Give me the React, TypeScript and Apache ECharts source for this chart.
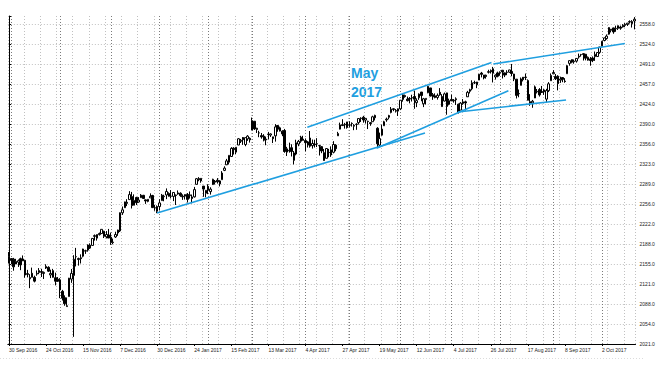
import { useEffect, useRef } from 'react';
import * as echarts from 'echarts';

// Daily bars, rows: [day, open, high, low, close]
const sep2016 = [[30, 2156.5, 2175.3, 2156.5, 2168.3]];
const oct2016 = [
  [3, 2164.3, 2164.4, 2154.8, 2161.2], [4, 2163.4, 2165.5, 2144.0, 2150.5], [5, 2155.2, 2163.9, 2155.1, 2159.7],
  [6, 2158.2, 2162.9, 2150.3, 2160.8], [7, 2164.2, 2165.9, 2144.9, 2153.7], [10, 2160.4, 2169.6, 2160.4, 2163.7],
  [11, 2161.4, 2161.6, 2132.2, 2136.7], [12, 2137.7, 2145.4, 2132.8, 2139.2], [13, 2130.3, 2138.2, 2114.7, 2132.6],
  [14, 2139.7, 2149.2, 2132.7, 2133.0], [17, 2132.9, 2135.6, 2124.4, 2126.5], [18, 2138.3, 2144.4, 2135.5, 2139.6],
  [19, 2140.8, 2148.4, 2138.2, 2144.3], [20, 2142.5, 2147.2, 2133.4, 2141.3], [21, 2139.4, 2142.6, 2130.1, 2141.2],
  [24, 2148.5, 2154.8, 2146.9, 2151.3], [25, 2149.7, 2151.4, 2141.9, 2143.2], [26, 2136.9, 2145.7, 2131.6, 2139.4],
  [27, 2144.1, 2147.1, 2132.5, 2133.0], [28, 2132.2, 2140.7, 2119.4, 2126.4], [31, 2129.8, 2133.3, 2125.5, 2126.2],
];
const nov2016 = [
  [1, 2128.7, 2131.5, 2097.9, 2111.7], [2, 2109.4, 2111.8, 2094.0, 2097.9], [3, 2098.8, 2102.6, 2085.2, 2088.7],
  [4, 2083.8, 2099.1, 2083.8, 2085.2], [7, 2100.6, 2132.0, 2100.6, 2131.5], [8, 2129.9, 2146.9, 2123.6, 2139.6],
  [9, 2136.0, 2170.0, 2033.0, 2163.3], [10, 2167.5, 2182.3, 2151.2, 2167.5], [11, 2162.7, 2165.9, 2152.5, 2164.5],
  [14, 2165.6, 2171.4, 2156.1, 2164.2], [15, 2168.3, 2180.8, 2166.4, 2180.4], [16, 2177.5, 2179.2, 2172.2, 2176.9],
  [17, 2178.6, 2188.1, 2175.9, 2187.1], [18, 2186.9, 2189.9, 2180.4, 2181.9], [21, 2186.4, 2198.7, 2186.4, 2198.2],
  [22, 2201.6, 2204.8, 2194.5, 2202.9], [23, 2198.6, 2204.7, 2194.5, 2204.7], [24, 2204.5, 2208.0, 2203.0, 2206.5],
  [25, 2206.3, 2213.4, 2206.3, 2213.4], [28, 2210.2, 2211.1, 2198.8, 2201.7], [29, 2200.8, 2210.5, 2198.2, 2204.7],
  [30, 2204.0, 2214.1, 2198.8, 2198.8],
];
const dec2016 = [
  [1, 2200.2, 2208.0, 2187.4, 2191.1], [2, 2191.1, 2197.9, 2188.4, 2192.0], [5, 2200.6, 2209.4, 2199.0, 2204.7],
  [6, 2207.3, 2212.8, 2202.5, 2212.2], [7, 2210.7, 2241.6, 2208.9, 2241.4], [8, 2241.1, 2251.7, 2237.6, 2246.2],
  [9, 2249.7, 2259.8, 2249.2, 2259.5], [12, 2258.8, 2264.0, 2252.4, 2257.0], [13, 2263.3, 2277.5, 2263.3, 2271.7],
  [14, 2268.4, 2276.2, 2248.4, 2253.3], [15, 2253.8, 2272.1, 2253.8, 2262.0], [16, 2266.8, 2268.1, 2254.2, 2258.1],
  [19, 2259.2, 2267.5, 2258.2, 2262.5], [20, 2266.5, 2272.6, 2266.2, 2270.8], [21, 2270.5, 2271.2, 2265.2, 2265.2],
  [22, 2262.9, 2263.2, 2256.1, 2261.0], [23, 2260.3, 2263.8, 2258.8, 2263.8], [27, 2266.2, 2273.8, 2266.2, 2268.9],
  [28, 2270.2, 2271.3, 2249.1, 2249.9], [29, 2249.5, 2254.5, 2244.6, 2249.3], [30, 2251.6, 2253.6, 2240.5, 2243.8],
];
const jan2017 = [
  [3, 2251.6, 2263.9, 2245.1, 2257.8], [4, 2261.6, 2272.8, 2261.6, 2270.8], [5, 2268.2, 2271.5, 2260.5, 2269.0],
  [6, 2271.1, 2282.1, 2264.1, 2277.0], [9, 2273.6, 2275.5, 2268.4, 2268.9], [10, 2269.0, 2279.3, 2265.3, 2268.9],
  [11, 2268.6, 2275.5, 2260.8, 2275.3], [12, 2271.1, 2271.8, 2254.3, 2270.4], [13, 2272.7, 2278.7, 2271.5, 2274.6],
  [16, 2274.0, 2275.5, 2268.0, 2270.0], [17, 2269.1, 2272.1, 2262.8, 2267.9], [18, 2269.1, 2272.0, 2263.4, 2271.9],
  [19, 2271.9, 2274.3, 2258.4, 2263.7], [20, 2270.0, 2277.0, 2265.0, 2271.3], [23, 2267.8, 2271.8, 2257.0, 2265.2],
  [24, 2267.9, 2284.6, 2266.7, 2280.1], [25, 2288.9, 2299.6, 2288.9, 2298.4], [26, 2298.6, 2301.0, 2294.1, 2296.7],
  [27, 2299.0, 2299.0, 2291.6, 2294.7], [30, 2286.0, 2286.0, 2268.0, 2280.9], [31, 2274.0, 2279.1, 2267.2, 2278.9],
];
const feb2017 = [
  [1, 2285.6, 2289.1, 2272.4, 2279.6], [2, 2276.7, 2284.0, 2271.7, 2280.9], [3, 2288.5, 2298.3, 2287.9, 2297.4],
  [6, 2294.3, 2296.2, 2288.6, 2292.6], [7, 2295.9, 2299.4, 2290.2, 2293.1], [8, 2289.6, 2295.9, 2285.4, 2294.7],
  [9, 2296.7, 2311.1, 2296.6, 2307.9], [10, 2312.3, 2319.2, 2311.1, 2316.1], [13, 2321.7, 2331.6, 2321.4, 2328.3],
  [14, 2326.1, 2337.6, 2322.2, 2337.6], [15, 2335.6, 2351.3, 2334.8, 2349.3], [16, 2349.6, 2351.3, 2338.9, 2347.2],
  [17, 2343.0, 2351.2, 2339.6, 2351.2], [21, 2354.9, 2366.7, 2354.9, 2365.4], [22, 2361.1, 2365.1, 2358.3, 2362.8],
  [23, 2367.5, 2368.3, 2355.1, 2363.8], [24, 2355.7, 2367.3, 2352.9, 2367.3], [27, 2365.2, 2371.5, 2361.9, 2369.8],
  [28, 2366.1, 2367.8, 2359.0, 2363.6],
];
const mar2017 = [
  [1, 2380.1, 2401.0, 2380.1, 2396.0], [2, 2394.8, 2394.8, 2380.2, 2381.9], [3, 2380.9, 2383.9, 2375.1, 2383.1],
  [6, 2375.2, 2378.8, 2368.0, 2375.3], [7, 2370.7, 2375.1, 2365.5, 2368.4], [8, 2369.8, 2373.1, 2361.0, 2363.0],
  [9, 2363.5, 2369.1, 2354.5, 2364.9], [10, 2372.5, 2376.9, 2364.2, 2372.6], [13, 2371.6, 2374.4, 2368.5, 2373.5],
  [14, 2368.6, 2368.6, 2358.2, 2365.5], [15, 2370.3, 2390.0, 2360.6, 2385.3], [16, 2387.7, 2388.1, 2377.2, 2381.4],
  [17, 2383.7, 2385.7, 2377.6, 2378.3], [20, 2378.2, 2379.6, 2369.7, 2373.5], [21, 2379.3, 2381.9, 2341.9, 2344.0],
  [22, 2343.0, 2351.8, 2336.5, 2348.5], [23, 2345.1, 2358.9, 2342.1, 2346.0], [24, 2350.4, 2356.2, 2335.7, 2344.0],
  [27, 2329.1, 2344.9, 2322.3, 2341.6], [28, 2339.8, 2363.8, 2337.6, 2358.6], [29, 2356.5, 2363.4, 2352.9, 2361.1],
  [30, 2361.3, 2370.4, 2358.6, 2368.1], [31, 2364.8, 2370.4, 2362.6, 2362.7],
];
const apr2017 = [
  [3, 2362.3, 2365.9, 2344.7, 2358.8], [4, 2354.8, 2361.7, 2350.7, 2360.2], [5, 2366.6, 2378.4, 2350.5, 2353.0],
  [6, 2353.8, 2364.1, 2348.9, 2357.5], [7, 2356.6, 2363.8, 2350.7, 2355.5], [10, 2357.2, 2366.4, 2351.5, 2357.2],
  [11, 2353.9, 2355.2, 2337.3, 2353.8], [12, 2352.2, 2352.7, 2341.2, 2344.9], [13, 2342.0, 2348.3, 2329.0, 2329.0],
  [17, 2332.6, 2349.1, 2332.5, 2349.0], [18, 2342.5, 2348.4, 2334.5, 2342.2], [19, 2346.8, 2352.6, 2335.0, 2338.2],
  [20, 2342.7, 2361.4, 2340.9, 2355.8], [21, 2354.7, 2356.2, 2344.5, 2348.7], [24, 2370.3, 2377.0, 2370.3, 2374.2],
  [25, 2381.5, 2392.5, 2381.2, 2388.6], [26, 2389.0, 2398.2, 2386.8, 2387.5], [27, 2389.7, 2392.1, 2382.4, 2388.8],
  [28, 2393.7, 2393.7, 2382.4, 2384.2],
];
const may2017 = [
  [1, 2388.5, 2394.5, 2384.8, 2388.3], [2, 2391.0, 2392.9, 2385.8, 2391.2], [3, 2386.5, 2389.8, 2379.8, 2388.1],
  [4, 2389.8, 2391.4, 2380.4, 2389.5], [5, 2392.4, 2399.3, 2389.4, 2399.3], [8, 2399.9, 2401.4, 2393.6, 2399.4],
  [9, 2401.6, 2403.9, 2392.4, 2396.9], [10, 2396.8, 2399.7, 2390.9, 2399.6], [11, 2394.8, 2395.7, 2381.7, 2394.4],
  [12, 2392.4, 2392.9, 2387.2, 2390.9], [15, 2394.0, 2404.1, 2393.9, 2402.3], [16, 2404.6, 2405.8, 2396.1, 2400.7],
  [17, 2383.0, 2384.9, 2350.0, 2357.0], [18, 2354.7, 2375.7, 2353.0, 2365.7], [19, 2371.4, 2389.1, 2370.4, 2381.7],
  [22, 2387.2, 2395.5, 2386.9, 2394.0], [23, 2397.0, 2400.9, 2393.9, 2398.4], [24, 2401.4, 2405.6, 2398.0, 2404.4],
  [25, 2409.5, 2418.7, 2408.0, 2415.1], [26, 2414.5, 2416.7, 2411.7, 2415.8], [30, 2411.7, 2415.3, 2409.4, 2412.9],
  [31, 2415.6, 2416.0, 2403.6, 2411.8],
];
const jun2017 = [
  [1, 2415.6, 2430.1, 2413.5, 2430.1], [2, 2431.3, 2440.2, 2427.7, 2439.1], [5, 2437.8, 2439.5, 2434.3, 2436.1],
  [6, 2431.9, 2436.2, 2428.1, 2429.3], [7, 2432.0, 2435.3, 2424.8, 2433.1], [8, 2434.3, 2439.3, 2427.9, 2433.8],
  [9, 2436.4, 2446.2, 2415.7, 2431.8], [12, 2425.9, 2433.2, 2418.5, 2429.4], [13, 2434.2, 2441.5, 2430.7, 2440.4],
  [14, 2443.8, 2443.8, 2428.3, 2437.9], [15, 2424.1, 2434.0, 2418.5, 2432.5], [16, 2431.2, 2433.2, 2422.9, 2433.2],
  [19, 2442.6, 2453.8, 2441.8, 2453.5], [20, 2450.7, 2450.7, 2436.6, 2437.0], [21, 2439.3, 2442.2, 2430.7, 2435.6],
  [22, 2437.4, 2441.6, 2433.3, 2434.5], [23, 2434.7, 2441.4, 2431.1, 2438.3], [26, 2443.3, 2450.4, 2437.6, 2439.1],
  [27, 2436.3, 2440.2, 2419.4, 2419.4], [28, 2428.7, 2443.0, 2428.0, 2440.7], [29, 2442.4, 2442.7, 2405.7, 2419.7],
  [30, 2429.2, 2432.7, 2421.6, 2423.4],
];
const jul2017 = [
  [3, 2431.4, 2439.2, 2428.7, 2429.0], [4, 2429.0, 2432.0, 2426.0, 2430.0], [5, 2430.8, 2434.9, 2422.1, 2432.5],
  [6, 2423.4, 2424.3, 2407.7, 2409.8], [7, 2413.5, 2426.9, 2413.5, 2425.2], [10, 2424.5, 2432.0, 2422.3, 2427.4],
  [11, 2427.4, 2429.3, 2412.8, 2425.5], [12, 2435.8, 2445.8, 2435.6, 2443.3], [13, 2445.0, 2449.3, 2441.4, 2447.8],
  [14, 2449.2, 2463.5, 2446.7, 2459.3], [17, 2459.5, 2462.8, 2457.2, 2459.1], [18, 2455.9, 2460.9, 2450.3, 2460.6],
  [19, 2463.9, 2473.8, 2463.9, 2473.8], [20, 2475.6, 2477.6, 2468.4, 2473.5], [21, 2467.4, 2472.5, 2465.1, 2472.5],
  [24, 2472.0, 2473.1, 2466.3, 2469.9], [25, 2477.9, 2481.2, 2474.9, 2477.1], [26, 2480.0, 2481.7, 2474.9, 2477.8],
  [27, 2482.8, 2486.0, 2459.9, 2475.4], [28, 2469.1, 2473.5, 2464.7, 2472.1], [31, 2475.9, 2478.0, 2468.5, 2470.3],
];
const aug2017 = [
  [1, 2477.1, 2478.5, 2471.1, 2476.4], [2, 2480.4, 2480.4, 2466.5, 2477.6], [3, 2476.0, 2476.0, 2468.9, 2472.2],
  [4, 2476.9, 2480.4, 2472.1, 2476.8], [7, 2477.1, 2481.0, 2475.9, 2480.9], [8, 2478.4, 2490.9, 2470.3, 2474.9],
  [9, 2465.4, 2474.4, 2462.1, 2474.0], [10, 2465.4, 2465.4, 2433.0, 2438.2], [11, 2441.0, 2448.1, 2435.0, 2441.3],
  [14, 2455.0, 2468.2, 2455.0, 2465.8], [15, 2468.7, 2468.9, 2461.6, 2464.6], [16, 2468.6, 2474.9, 2463.9, 2468.1],
  [17, 2463.0, 2465.0, 2430.0, 2430.0], [18, 2427.6, 2440.3, 2420.7, 2425.6], [21, 2425.5, 2430.6, 2417.4, 2428.4],
  [22, 2433.8, 2454.8, 2433.7, 2452.5], [23, 2444.9, 2448.9, 2441.4, 2444.0], [24, 2447.9, 2450.4, 2436.2, 2439.0],
  [25, 2444.7, 2454.0, 2442.2, 2443.1], [28, 2447.4, 2449.1, 2439.0, 2444.2], [29, 2431.9, 2449.2, 2426.0, 2446.3],
  [30, 2446.1, 2460.4, 2443.7, 2457.6], [31, 2462.7, 2475.0, 2462.7, 2471.7],
];
const sep2017 = [
  [1, 2474.4, 2480.4, 2473.8, 2476.6], [4, 2470.0, 2474.0, 2464.0, 2466.0], [5, 2470.4, 2472.0, 2446.6, 2457.9],
  [6, 2463.8, 2469.6, 2459.2, 2465.5], [7, 2468.1, 2468.6, 2460.3, 2465.1], [8, 2462.3, 2467.1, 2459.4, 2461.4],
  [11, 2474.5, 2488.9, 2474.5, 2488.1], [12, 2491.9, 2496.8, 2488.0, 2496.5], [13, 2493.9, 2498.4, 2492.1, 2498.4],
  [14, 2494.6, 2498.4, 2491.4, 2495.6], [15, 2495.7, 2500.2, 2493.2, 2500.2], [18, 2502.5, 2508.3, 2499.9, 2503.9],
  [19, 2506.3, 2507.8, 2503.2, 2506.7], [20, 2506.8, 2508.9, 2496.7, 2508.2], [21, 2507.2, 2507.2, 2497.0, 2500.6],
  [22, 2497.3, 2503.5, 2496.5, 2502.2], [25, 2499.4, 2502.5, 2488.0, 2496.7], [26, 2501.0, 2503.5, 2494.0, 2496.8],
  [27, 2503.3, 2511.8, 2496.1, 2507.0], [28, 2503.4, 2510.8, 2502.9, 2510.1], [29, 2510.4, 2519.4, 2508.0, 2519.4],
];
const oct2017 = [
  [2, 2521.2, 2529.2, 2520.4, 2529.1], [3, 2530.3, 2535.1, 2528.9, 2534.6], [4, 2533.5, 2540.5, 2531.8, 2537.7],
  [5, 2540.9, 2552.5, 2540.0, 2552.1], [6, 2547.4, 2549.4, 2543.8, 2549.3], [9, 2551.4, 2551.8, 2541.6, 2544.7],
  [10, 2550.0, 2555.2, 2544.9, 2550.6], [11, 2550.6, 2555.2, 2548.0, 2555.2], [12, 2552.9, 2555.3, 2548.3, 2550.9],
  [13, 2555.7, 2557.7, 2552.0, 2553.2], [16, 2555.6, 2559.5, 2552.6, 2557.6], [17, 2557.2, 2559.7, 2554.7, 2559.4],
  [18, 2561.9, 2564.1, 2558.7, 2561.3], [19, 2558.4, 2564.4, 2552.0, 2562.1], [20, 2563.0, 2569.5, 2549.0, 2566.0],
];

const monthTables: [string, number[][]][] = [
  ['2016-09', sep2016], ['2016-10', oct2016], ['2016-11', nov2016], ['2016-12', dec2016],
  ['2017-01', jan2017], ['2017-02', feb2017], ['2017-03', mar2017], ['2017-04', apr2017],
  ['2017-05', may2017], ['2017-06', jun2017], ['2017-07', jul2017], ['2017-08', aug2017],
  ['2017-09', sep2017], ['2017-10', oct2017],
];

const xTickLabels = [
  '30 Sep 2016', '24 Oct 2016', '15 Nov 2016', '7 Dec 2016', '30 Dec 2016', '24 Jan 2017',
  '15 Feb 2017', '13 Mar 2017', '4 Apr 2017', '27 Apr 2017', '19 May 2017', '12 Jun 2017',
  '4 Jul 2017', '26 Jul 2017', '17 Aug 2017', '8 Sep 2017', '2 Oct 2017',
];
const xTickEvery = 16;
const yTickLabels = [
  '2021.0', '2054.0', '2088.0', '2121.0', '2155.0', '2188.0', '2222.0', '2256.0', '2289.0',
  '2323.0', '2356.0', '2390.0', '2424.0', '2457.0', '2491.0', '2524.0', '2558.0',
];
const yFirstTick = 2021;
const yTickStep = 33.5625;
const yTop = 2571.4;

// trend lines: [barIndex, price] endpoints
const trendLines = [
  [[63.9, 2240.8], [179.6, 2375.1]],
  [[128.8, 2384.6], [208.3, 2493.4]],
  [[158.7, 2349.4], [215.6, 2446.1]],
  [[193.8, 2410.3], [240.5, 2430.5]],
  [[209.1, 2490.9], [265.9, 2525.3]],
];
const annotation = 'May\n2017';

const BLUE = '#1f9fe0';
const FONT = '"Liberation Sans", Arial, sans-serif';

export default function App() {
  const ref = useRef<HTMLDivElement>(null);
  useEffect(() => {
    if (!ref.current) return;
    const chart = echarts.init(ref.current, undefined, { renderer: 'svg' });
    const categories: string[] = [];
    const ohlc: number[][] = [];
    const monthStarts: string[] = [];
    monthTables.forEach(([ym, rows], mi) => {
      rows.forEach((r, ri) => {
        const d = `${ym}-${String(r[0]).padStart(2, '0')}`;
        categories.push(d);
        ohlc.push([r[1], r[4], r[3], r[2]]);
        if (ri === 0 && mi > 0) monthStarts.push(d);
      });
    });
    const n = categories.length;
    chart.setOption({
      animation: false,
      backgroundColor: '#ffffff',
      grid: { left: 7.84, top: 16, width: 627.7, height: 328, containLabel: false },
      xAxis: [
        {
          type: 'category',
          data: categories,
          boundaryGap: true,
          axisLine: { show: true, lineStyle: { color: '#000', width: 1 } },
          axisTick: {
            show: true, alignWithLabel: true, length: 2,
            interval: (i: number) => i % xTickEvery === 0,
            lineStyle: { color: '#000' },
          },
          axisLabel: {
            interval: (i: number) => i % xTickEvery === 0 && i / xTickEvery < xTickLabels.length,
            formatter: (_v: string, i: number) => xTickLabels[i / xTickEvery] ?? '',
            align: 'left', fontSize: 5, color: '#222', margin: 3, fontFamily: FONT,
          },
          splitLine: {
            show: true,
            interval: (i: number) => i % 7 === 0,
            lineStyle: { color: '#c0c0c0', type: [1, 2], width: 1 },
          },
        },
        { type: 'value', min: -0.5, max: n - 0.5, show: false },
      ],
      yAxis: {
        type: 'value',
        position: 'right',
        min: yFirstTick,
        max: yTop,
        interval: yTickStep,
        axisLine: { show: true, lineStyle: { color: '#000', width: 1 } },
        axisTick: { show: true, length: 2, lineStyle: { color: '#000' } },
        axisLabel: {
          fontSize: 5, color: '#222', margin: 4, fontFamily: FONT,
          formatter: (v: number) => {
            const k = Math.round((v - yFirstTick) / yTickStep);
            if (Math.abs(v - (yFirstTick + k * yTickStep)) > 0.5) return '';
            return yTickLabels[k] ?? '';
          },
        },
        splitLine: { show: true, showMaxLine: false, lineStyle: { color: '#c0c0c0', type: [1, 2], width: 1 } },
      },
      series: [
        {
          type: 'candlestick',
          xAxisIndex: 0,
          data: ohlc,
          barWidth: 2,
          z: 3,
          itemStyle: {
            color: '#ffffff', color0: '#000000',
            borderColor: '#000000', borderColor0: '#000000', borderWidth: 1,
          },
          markLine: {
            silent: true, z: 1, symbol: ['none', 'none'], label: { show: false },
            lineStyle: { color: '#7a7a7a', type: [1, 2], width: 1 },
            data: monthStarts.map((d) => ({ xAxis: d })),
          },
        },
        ...trendLines.map((pts) => ({
          type: 'line',
          xAxisIndex: 1,
          data: pts,
          showSymbol: false,
          symbol: 'none',
          silent: true,
          z: 5,
          lineStyle: { color: BLUE, width: 1.6 },
        })),
      ],
      graphic: [
        {
          type: 'text', left: 351, top: 63, silent: true,
          style: { text: annotation, fill: BLUE, font: `bold 14px ${FONT}`, lineHeight: 19 },
        },
        {
          type: 'line', silent: true,
          shape: { x1: 0, y1: 358.5, x2: 645, y2: 358.5 },
          style: { stroke: '#dcdcdc', lineWidth: 1, lineDash: [1, 2] },
        },
      ],
    });
    return () => chart.dispose();
  }, []);
  return (
    <div
      ref={ref}
      style={{ position: 'fixed', left: 0, top: 0, width: 660, height: 366, background: '#fff' }}
    />
  );
}
